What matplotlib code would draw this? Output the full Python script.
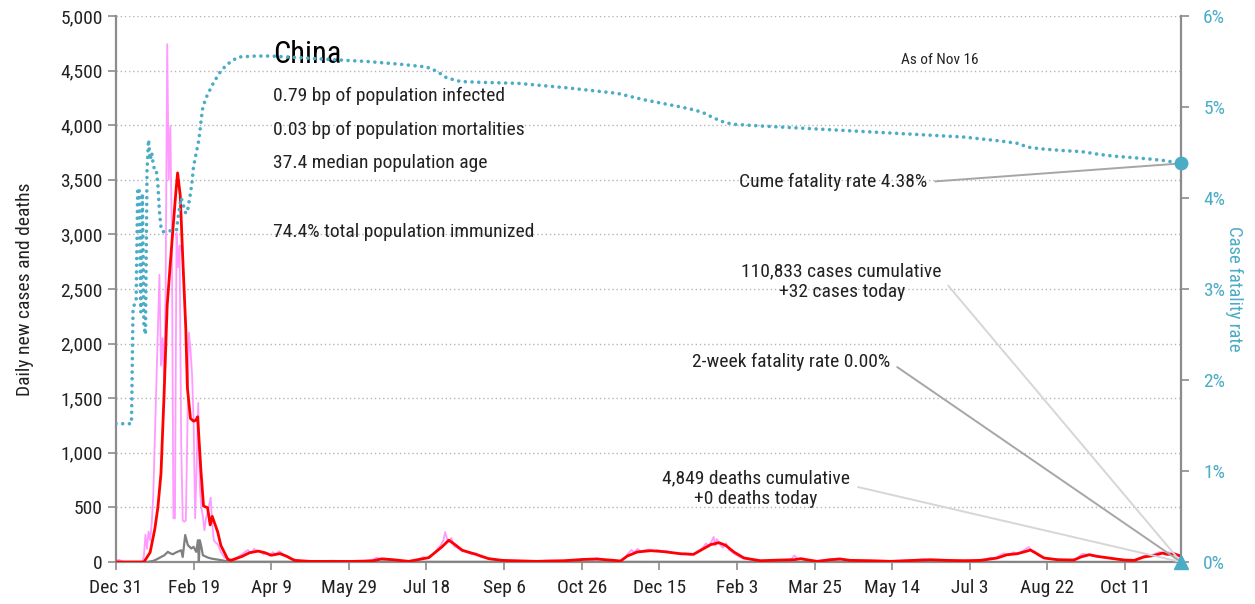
import matplotlib
matplotlib.use("Agg")
import matplotlib.pyplot as plt
from matplotlib import font_manager
from matplotlib.ticker import FuncFormatter

# pick a narrow font if one is installed
installed = {f.name for f in font_manager.fontManager.ttflist}
font = "DejaVu Sans"
for cand in ["Liberation Sans Narrow", "Roboto Condensed", "Open Sans Condensed", "Roboto", "Liberation Sans"]:
    if cand in installed:
        font = cand
        break
plt.rcParams["font.family"] = [font, "DejaVu Sans"]

# ---- data (day 0 = Dec 31 2019, last day = Nov 16 2021) ----
x_tick_labels = ["Dec 31", "Feb 19", "Apr 9", "May 29", "Jul 18", "Sep 6", "Oct 26",
                 "Dec 15", "Feb 3", "Mar 25", "May 14", "Jul 3", "Aug 22", "Oct 11"]
last_day = 686

daily_days = [0, 2, 4, 6, 17, 18, 19, 20, 21, 22, 23, 24, 25, 26, 27, 28, 29, 30, 31, 32,
              33, 34, 35, 36, 37, 38, 39, 40, 41, 42, 43, 44, 45, 46, 47, 48, 49, 50, 51, 52,
              53, 54, 55, 56, 57, 58, 59, 60, 61, 62, 63, 64, 65, 66, 67, 68, 69, 70, 72, 75,
              78, 80, 83, 85, 87, 89, 91, 93, 95, 97, 99, 101, 103, 105, 107, 109, 111, 113, 116, 120,
              130, 140, 150, 160, 166, 168, 170, 173, 176, 180, 185, 190, 195, 198, 200, 203, 205, 207, 209, 211,
              212, 214, 216, 218, 220, 223, 226, 229, 232, 235, 238, 241, 245, 250, 260, 270, 280, 290, 300, 305,
              310, 315, 320, 325, 328, 330, 332, 334, 336, 338, 340, 343, 346, 349, 352, 355, 358, 361, 364, 367,
              370, 372, 374, 376, 378, 380, 382, 384, 385, 386, 387, 389, 391, 393, 395, 397, 399, 402, 405, 410,
              415, 420, 425, 430, 435, 437, 439, 442, 446, 450, 455, 460, 466, 470, 478, 485, 492, 500, 508, 515,
              520, 525, 530, 537, 545, 550, 556, 560, 563, 566, 569, 572, 575, 578, 581, 584, 586, 588, 590, 592,
              594, 597, 600, 605, 610, 615, 619, 621, 623, 625, 628, 631, 635, 640, 645, 650, 655, 660, 663, 666,
              669, 672, 674, 676, 678, 680, 682, 684, 686]
daily_cases = [15, 20, 5, 0, 0, 60, 250, 120, 280, 200, 350, 600, 1100, 1600, 2100, 2630, 1800, 2050, 1660, 2500,
               4742, 3500, 3990, 2980, 400, 400, 3013, 2700, 2900, 1100, 380, 370, 380, 1200, 2100, 1950, 1720, 1300, 400, 900,
               1456, 700, 500, 420, 290, 400, 450, 520, 590, 350, 200, 180, 170, 150, 110, 80, 60, 40, 30, 20,
               40, 60, 90, 110, 80, 120, 100, 95, 70, 80, 60, 90, 70, 100, 80, 60, 50, 30, 20, 10,
               8, 12, 5, 10, 25, 40, 30, 35, 20, 15, 5, 10, 25, 45, 35, 60, 80, 120, 150, 200,
               275, 180, 220, 140, 130, 100, 90, 70, 80, 45, 40, 30, 20, 15, 12, 8, 15, 10, 25, 30,
               35, 20, 15, 10, 40, 80, 110, 90, 120, 95, 105, 115, 100, 110, 95, 100, 85, 80, 70, 80,
               65, 75, 90, 110, 130, 170, 140, 200, 230, 150, 210, 160, 130, 170, 110, 90, 70, 45, 30, 20,
               12, 10, 20, 15, 25, 60, 30, 35, 20, 8, 15, 25, 35, 20, 15, 10, 12, 8, 15, 20,
               25, 15, 20, 12, 15, 10, 20, 25, 40, 30, 60, 80, 60, 90, 75, 100, 120, 137, 100, 95,
               60, 40, 30, 25, 20, 20, 30, 60, 75, 70, 60, 50, 45, 35, 25, 20, 15, 40, 60, 50,
               75, 90, 85, 70, 90, 75, 85, 60, 32]

avg_days = [0, 18, 22, 25, 27, 29, 31, 33, 36, 38.6, 39.7, 41.4, 43, 45, 46, 48, 50, 51.5, 52.6, 54.7,
            56.4, 59, 60.7, 62, 65.5, 67.6, 72, 74, 81, 86, 91.6, 96, 100, 105.6, 110, 115, 125, 150, 165, 171,
            178, 188.6, 201.5, 210, 214.4, 218.8, 223, 231.7, 240, 249, 256, 271, 288.6, 301.5, 310, 320.8, 325, 329.4, 335.8, 344.4,
            353, 363.7, 372, 376.6, 383, 388.4, 392.7, 398, 404.5, 415, 428, 436.7, 441, 445, 451.7, 460, 466.7, 473, 486, 499,
            514, 524.7, 535.5, 546, 557, 567.7, 574, 580.6, 587, 589, 592.5, 597.8, 606.5, 617, 621.5, 627, 632, 641, 649.5, 656,
            662, 669, 674, 677.4, 681.7, 686]
avg_cases = [0, 0, 88, 300, 500, 811, 1535, 2352, 2918, 3390, 3563, 3358, 2792, 2132, 1597, 1314, 1290, 1299, 1330, 843,
             513, 497, 340, 418, 277, 151, 25, 15, 50, 85, 100, 85, 62, 77, 52, 15, 6, 5, 10, 28,
             22, 6, 40, 139, 200, 155, 108, 71, 31, 15, 12, 6, 12, 24, 27, 15, 9, 55, 92, 104,
             95, 76, 70, 107, 159, 177, 153, 92, 37, 12, 18, 21, 30, 21, 6, 21, 27, 15, 12, 6,
             15, 21, 15, 12, 15, 37, 67, 76, 101, 110, 82, 37, 21, 18, 46, 67, 52, 34, 18, 15,
             46, 61, 82, 70, 73, 55]

death_days = [0, 20, 24, 27, 29, 31, 33.4, 35, 36.6, 39, 42, 43, 44.6, 46.3, 48.5, 50, 51.7, 52.8, 53.4, 54,
              55, 56, 59.3, 62, 65.7, 72, 80, 686]
daily_deaths = [0, 0, 10, 30, 46, 60, 93, 80, 71, 90, 108, 46, 247, 155, 124, 139, 93, 200, 5, 200,
                139, 62, 40, 30, 22, 6, 2, 0]

cfr_days = [0, 10, 11, 12, 13, 14, 15, 16, 17, 18, 19, 20, 21, 22, 23, 24, 25, 26, 27, 28,
            29, 30, 31, 39, 40, 41, 42, 43, 44, 45, 46, 47, 48, 49, 50, 52, 53, 54, 55, 56,
            58, 60, 62, 64, 67, 70, 74, 79, 90, 100, 120, 140, 162, 183, 200, 207, 213, 222, 237, 259,
            291, 323, 340, 364, 372, 378, 385, 392, 398, 417, 450, 482, 514, 546, 568, 581, 587, 596, 611, 622,
            633, 643, 665, 676, 686]
cfr_pct = [1.52, 1.52, 2.80, 2.83, 2.88, 4.11, 4.08, 2.75, 4.05, 2.60, 2.50, 4.30, 4.64, 4.42, 4.50, 4.37, 4.30, 4.30, 4.15, 3.85,
           3.68, 3.63, 3.63, 3.65, 3.78, 3.90, 4.00, 3.95, 3.88, 3.83, 3.85, 3.95, 4.05, 4.18, 4.35, 4.52, 4.60, 4.72, 4.88, 5.00,
           5.10, 5.17, 5.24, 5.30, 5.38, 5.44, 5.50, 5.55, 5.56, 5.56, 5.54, 5.52, 5.50, 5.47, 5.44, 5.39, 5.32, 5.28, 5.27, 5.26,
           5.21, 5.15, 5.08, 5.00, 4.97, 4.94, 4.88, 4.83, 4.81, 4.79, 4.76, 4.73, 4.70, 4.67, 4.63, 4.60, 4.56, 4.54, 4.52, 4.51,
           4.48, 4.46, 4.43, 4.41, 4.38]

info_lines = ["0.79 bp of population infected", "0.03 bp of population mortalities",
              "37.4 median population age", "74.4% total population immunized"]

# ---- colours ----
teal = "#4bacc6"
pink = "#ff88ff"
axis_gray = "#8c8c8c"

fig = plt.figure(figsize=(12.55, 6.04), dpi=100)
ax = fig.add_axes([0.0924, 0.0695, 0.8486, 0.904])
ax2 = ax.twinx()

ax.plot(daily_days, daily_cases, color=pink, lw=1.3, alpha=0.85, zorder=2)
ax.plot(death_days, daily_deaths, color="#808080", lw=1.6, zorder=3)
ax.plot(avg_days, avg_cases, color="#ff0000", lw=2.0, zorder=4)

ax2.plot(cfr_days, cfr_pct, color=teal, lw=2.6, linestyle=(0, (0.01, 1.85)),
         dash_capstyle="round", zorder=5)
ax2.plot([cfr_days[-1]], [cfr_pct[-1]], "o", color=teal, ms=9, zorder=6, clip_on=False)
ax2.plot([last_day], [0], "^", color=teal, ms=10, zorder=6, clip_on=False)

# axes setup
ax.set_xlim(0, last_day)
ax.set_ylim(0, 5000)
ax2.set_ylim(0, 6)
ax.set_xticks(range(0, last_day, 50))
ax.set_xticklabels(x_tick_labels)
ax.set_yticks(range(0, 5001, 500))
ax.yaxis.set_major_formatter(FuncFormatter(lambda v, p: f"{int(v):,}"))
ax2.set_yticks(range(0, 7))
ax2.yaxis.set_major_formatter(FuncFormatter(lambda v, p: f"{int(v)}%"))

ax.yaxis.grid(True, linestyle=(0, (1, 2)), color="#b5b5b5", lw=1)
ax.set_axisbelow(True)

for a in (ax, ax2):
    for s in a.spines.values():
        s.set_visible(False)
ax.spines["left"].set_visible(True)
ax.spines["bottom"].set_visible(True)
ax2.spines["right"].set_visible(True)
for s in (ax.spines["left"], ax.spines["bottom"], ax2.spines["right"]):
    s.set_color(axis_gray)
    s.set_linewidth(1.6)

ax.tick_params(axis="both", colors=axis_gray, length=6, width=1.2, labelsize=14, labelcolor="#222222")
ax.tick_params(axis="x", pad=6)
ax2.tick_params(axis="y", colors=axis_gray, length=6, width=1.2, labelsize=14, labelcolor=teal, pad=10)

ax.set_ylabel("Daily new cases and deaths", fontsize=14, color="#222222", labelpad=19)
ax2.set_ylabel("Case fatality rate", fontsize=13.5, color=teal, rotation=270, labelpad=13)

# text block
ax.text(0.1474, 0.9286, "China", transform=ax.transAxes, fontsize=22, va="center", ha="left", color="black", zorder=7)
for txt, yy in zip(info_lines, [0.8535, 0.791, 0.7308, 0.6044]):
    ax.text(0.1474, yy, txt, transform=ax.transAxes, fontsize=14, va="center", ha="left", color="#222222", zorder=7)
ax.text(0.7737, 0.919, "As of Nov 16", transform=ax.transAxes, fontsize=11, va="center", ha="center", color="#222222")

# call-outs
ax2.annotate("Cume fatality rate 4.38%", xy=(cfr_days[-1], cfr_pct[-1]), xycoords="data",
             xytext=(0.7615, 0.696), textcoords="axes fraction", fontsize=14, ha="right", va="center",
             color="#222222", arrowprops=dict(arrowstyle="-", color="#a6a6a6", lw=1.4, shrinkA=4, shrinkB=0,
                                              relpos=(1, 0.5)))
ax2.annotate("110,833 cases cumulative\n+32 cases today", xy=(last_day, 0), xycoords="data",
             xytext=(0.6814, 0.5128), textcoords="axes fraction", fontsize=14, ha="center", va="center",
             color="#222222", linespacing=1.2,
             arrowprops=dict(arrowstyle="-", color="#d6d6d6", lw=1.4, shrinkA=4, shrinkB=0, relpos=(1, 0.6)))
ax2.annotate("2-week fatality rate 0.00%", xy=(last_day, 0), xycoords="data",
             xytext=(0.6336, 0.3663), textcoords="axes fraction", fontsize=14, ha="center", va="center",
             color="#222222", arrowprops=dict(arrowstyle="-", color="#a6a6a6", lw=1.4, shrinkA=4, shrinkB=0,
                                              relpos=(1, 0.5)))
ax2.annotate("4,849 deaths cumulative\n+0 deaths today", xy=(last_day, 0), xycoords="data",
             xytext=(0.6008, 0.1337), textcoords="axes fraction", fontsize=14, ha="center", va="center",
             color="#222222", linespacing=1.2,
             arrowprops=dict(arrowstyle="-", color="#d6d6d6", lw=1.4, shrinkA=4, shrinkB=0, relpos=(1, 0.6)))

fig.savefig("out.png", dpi=100)
